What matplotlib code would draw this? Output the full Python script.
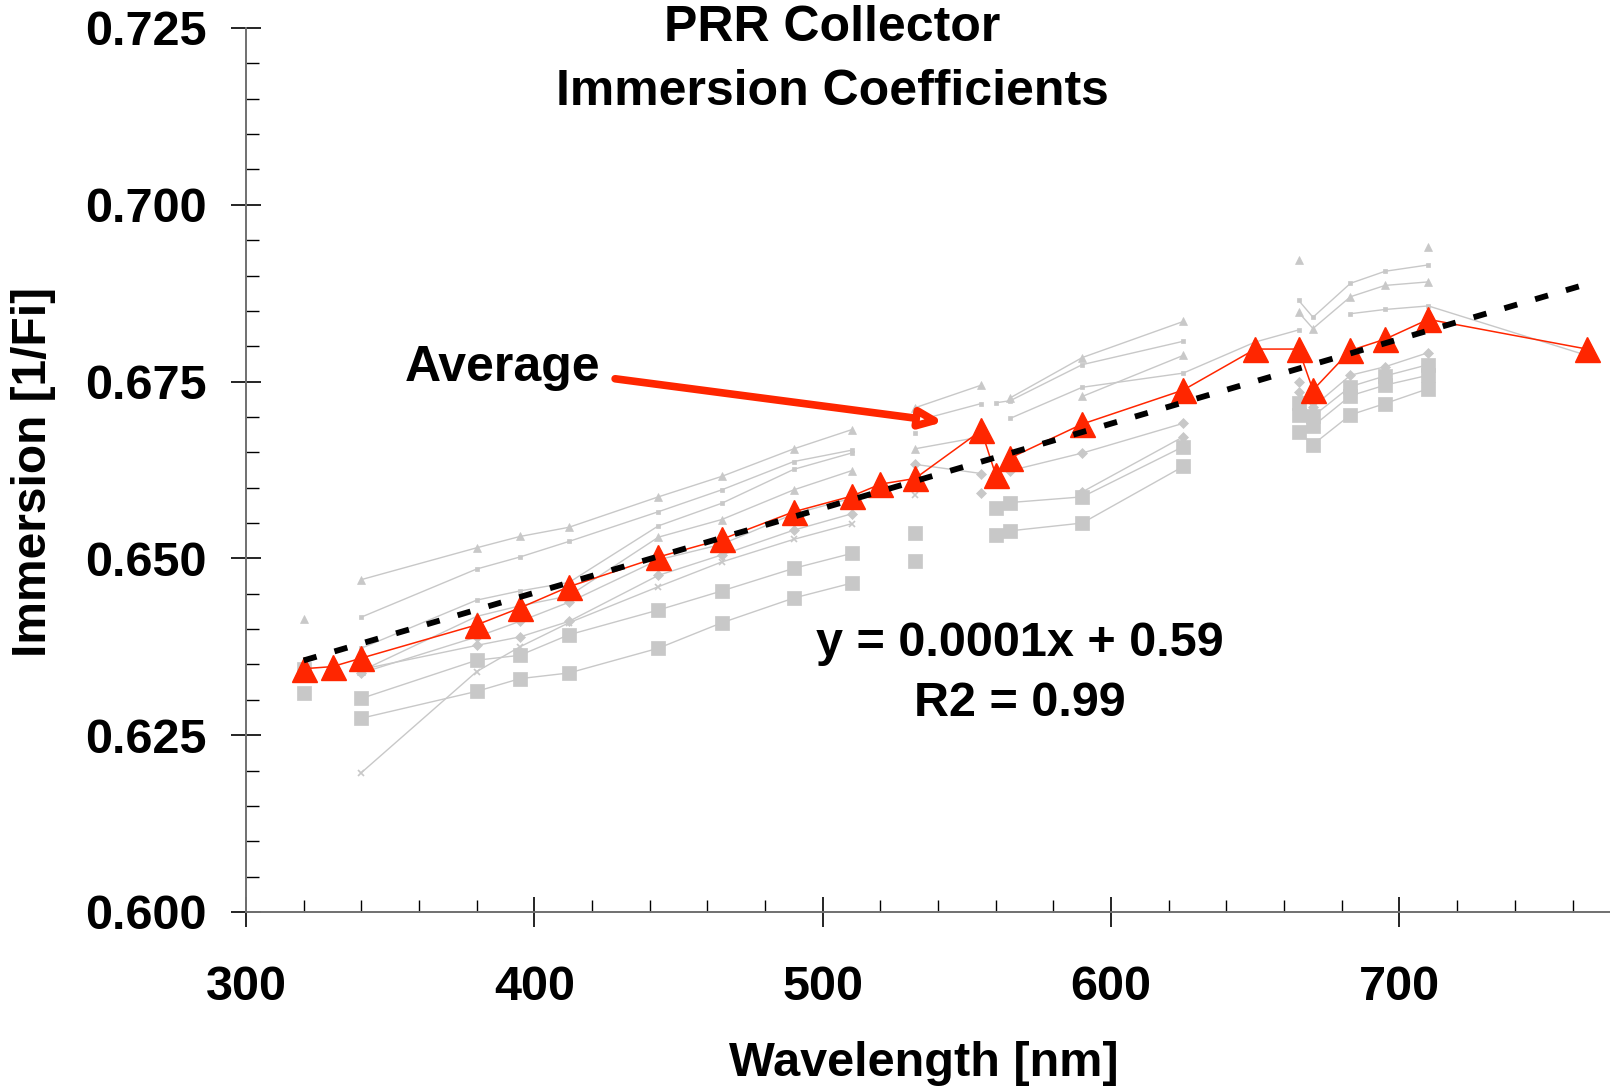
import numpy as np
import matplotlib
matplotlib.use('Agg')
import matplotlib.pyplot as plt
from matplotlib.ticker import MultipleLocator, FormatStrFormatter

plt.rcParams['font.family'] = ['Liberation Sans', 'DejaVu Sans']
plt.rcParams['font.weight'] = 'bold'

n = np.nan

# wavelengths of the PRR channels [nm]
wavelength = [320, 330, 340, 380, 395, 412, 443, 465, 490, 510, 520, 532,
              555, 560, 565, 590, 625, 650, 665, 670, 683, 695, 710, 765]

# average immersion coefficient
average = [0.6344, 0.6347, 0.6359, 0.6406, 0.6430, 0.6460, 0.6502, 0.6527,
           0.6566, 0.6588, 0.6605, 0.6613, 0.6681, 0.6618, 0.6642, 0.6690,
           0.6738, 0.6796, 0.6796, 0.6738, 0.6794, 0.6810, 0.6838, 0.6796]

# individual instruments (grey)
inst1 = [0.6414, n, 0.6470, 0.6515, 0.6531, 0.6544, 0.6587, 0.6616, 0.6655, 0.6682, n, 0.6713,
         0.6745, n, 0.6727, 0.6784, 0.6835, n, 0.6922, n, n, n, 0.6941, n]
inst2 = [n, n, 0.6417, 0.6485, 0.6502, 0.6524, 0.6566, 0.6597, 0.6637, 0.6653, n, 0.6694,
         0.6719, n, 0.6698, 0.6742, 0.6762, 0.6806, 0.6823, n, 0.6846, 0.6852, 0.6857, 0.6787]
inst3 = [n, n, 0.6373, 0.6441, 0.6454, 0.6466, 0.6546, 0.6578, 0.6626, 0.6649, n, 0.6677,
         n, 0.6720, 0.6723, 0.6774, 0.6807, n, 0.6865, 0.6841, 0.6889, 0.6906, 0.6915, n]
inst4 = [n, n, 0.6341, 0.6418, 0.6433, 0.6447, 0.6530, 0.6555, 0.6597, 0.6624, n, 0.6655,
         0.6672, n, n, 0.6729, 0.6787, n, 0.6848, 0.6825, 0.6870, 0.6886, 0.6891, n]
inst5 = [n, n, 0.6338, 0.6389, 0.6411, 0.6438, 0.6498, 0.6520, 0.6563, 0.6585, n, 0.6633,
         0.6620, n, 0.6624, 0.6649, 0.6691, n, 0.6749, n, n, n, n, n]
inst6 = [n, n, 0.6343, 0.6377, 0.6389, 0.6411, 0.6476, 0.6505, 0.6540, 0.6563, n, n,
         0.6592, n, n, 0.6594, 0.6672, n, 0.6735, 0.6714, 0.6759, 0.6771, 0.6791, n]
inst7 = [0.6344, n, 0.6302, 0.6356, 0.6363, 0.6392, 0.6427, 0.6454, 0.6486, 0.6507, n, 0.6536,
         n, n, n, n, n, n, 0.6720, 0.6701, 0.6743, 0.6758, 0.6774, n]
inst8 = [n, n, 0.6274, 0.6312, 0.6330, 0.6338, 0.6373, 0.6409, 0.6444, 0.6465, n, 0.6497,
         n, 0.6533, 0.6539, 0.6550, 0.6630, n, 0.6703, 0.6687, 0.6730, 0.6745, 0.6759, n]
inst9 = [0.6309, n, n, n, n, n, n, n, n, n, n, n,
         n, 0.6571, 0.6579, 0.6587, 0.6658, n, 0.6679, 0.6661, 0.6703, 0.6719, 0.6740, n]
inst10 = [n, n, 0.6197, 0.6340, 0.6375, 0.6409, 0.6460, 0.6495, 0.6527, 0.6549, n, 0.6589,
          n, n, n, n, n, n, n, n, n, n, n, n]

instruments = [inst1, inst2, inst3, inst4, inst5, inst6, inst7, inst8, inst9, inst10]
inst_markers = ['^', 's', 's', '^', 'D', 'D', 's', 's', 's', 'x']
inst_msize = [6, 3.5, 3.5, 6, 5, 5, 10, 10, 10, 4]

# trend line of the average
trend_slope = 0.0001196
trend_intercept = 0.5973
trend_x = [320, 765]

grey = '#c8c8c8'
red = '#ff2600'

fig = plt.figure(figsize=(16.1, 10.89), dpi=100)
ax = fig.add_axes([246/1610, 1-912/1089, 1-246/1610, (912-28)/1089])

x = np.array(wavelength)
for yi, m, ms in zip(instruments, inst_markers, inst_msize):
    ax.plot(x, yi, color=grey, lw=1.0, marker=m, ms=ms, mfc=grey, mec=grey,
            mew=1.2 if m == 'x' else 0.5, zorder=2)

ax.plot(x, average, color=red, lw=1.1, marker='^', ms=18, mfc=red, mec=red, zorder=4)

tx = np.array(trend_x)
ax.plot(tx, trend_slope*tx + trend_intercept, color='black', lw=4.2,
        linestyle=(0, (2.3, 3.2)), zorder=5)

ax.set_xlim(300, 773)
ax.set_ylim(0.600, 0.725)
ax.xaxis.set_major_locator(MultipleLocator(100))
ax.xaxis.set_minor_locator(MultipleLocator(20))
ax.yaxis.set_major_locator(MultipleLocator(0.025))
ax.yaxis.set_minor_locator(MultipleLocator(0.005))
ax.yaxis.set_major_formatter(FormatStrFormatter('%.3f'))

for s in ['top', 'right']:
    ax.spines[s].set_visible(False)
for s in ['left', 'bottom']:
    ax.spines[s].set_color('#707070')
    ax.spines[s].set_linewidth(1.4)

ax.tick_params(which='major', direction='inout', length=22, width=1.2, color='black',
               labelsize=35)
ax.tick_params(axis='x', which='major', pad=27)
ax.tick_params(axis='y', which='major', pad=17)
ax.tick_params(which='minor', direction='in', length=9, width=1.0, color='black')
for lab in ax.get_xticklabels() + ax.get_yticklabels():
    lab.set_fontweight('bold')

# titles and labels
fig.text(832/1610, 1-28/1089, 'PRR Collector', ha='center', va='center', fontsize=36, fontweight='bold')
fig.text(832/1610, 1-92/1089, 'Immersion Coefficients', ha='center', va='center', fontsize=36, fontweight='bold')
fig.text(924/1610, 1-1063/1089, 'Wavelength [nm]', ha='center', va='center', fontsize=35, fontweight='bold')
fig.text(34/1610, 1-472/1089, 'Immersion [1/Fi]', ha='center', va='center', rotation=90,
         fontsize=34.5, fontweight='bold')

ax.text(389, 0.6769, 'Average', ha='center', va='center', fontsize=36, fontweight='bold')
ax.annotate('', xy=(542, 0.6693), xytext=(428, 0.6754),
            arrowprops=dict(arrowstyle='-|>,head_length=1.3,head_width=0.55', color=red,
                            lw=5.5, fc='white', shrinkA=0, shrinkB=0), zorder=6)

ax.text(1020/1610, 1-644/1089, 'y = 0.0001x + 0.59', transform=fig.transFigure,
        ha='center', va='center', fontsize=35, fontweight='bold')
ax.text(1020/1610, 1-704/1089, 'R2 = 0.99', transform=fig.transFigure,
        ha='center', va='center', fontsize=35, fontweight='bold')

fig.savefig('out.png', dpi=100)
